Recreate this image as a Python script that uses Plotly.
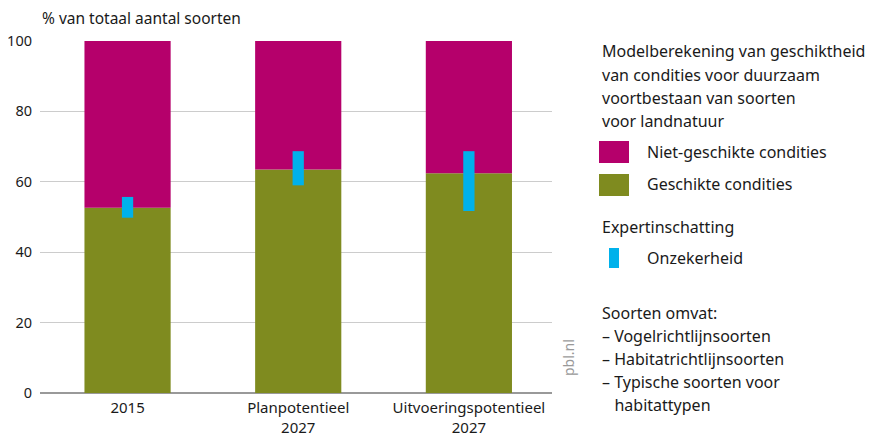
import plotly.graph_objects as go

categories = ["2015", "Planpotentieel<br>2027", "Uitvoeringspotentieel<br>2027"]
geschikt = [52.6, 63.5, 62.4]
niet_geschikt = [47.4, 36.5, 37.6]
onz_low = [49.8, 59.0, 51.7]
onz_high = [55.7, 68.7, 68.7]

MAGENTA = "#b5006b"
GREEN = "#7f8b1f"
BLUE = "#00b1eb"
FONT = "Noto Sans"

# page body has 8px margin: figure is placed at (8, 8)
OFF = 8
W, H = 876 - OFF, 440 - OFF
L, R, T, B = 40, 552, 41, 393  # plot area in page pixels
PW, PH = R - L, B - T

fig = go.Figure()
fig.add_trace(go.Bar(x=categories, y=geschikt, marker_color=GREEN, width=0.505,
                     marker_line_width=0, name="Geschikte condities"))
fig.add_trace(go.Bar(x=categories, y=niet_geschikt, base=geschikt, marker_color=MAGENTA,
                     width=0.505, marker_line_width=0, name="Niet-geschikte condities"))
fig.add_trace(go.Bar(x=categories, y=[h - l for h, l in zip(onz_high, onz_low)], base=onz_low,
                     marker_color=BLUE, width=0.066, marker_line_width=0, name="Onzekerheid"))

fig.update_layout(
    width=W, height=H,
    margin=dict(l=L - OFF, r=876 - R, t=T - OFF, b=440 - B, autoexpand=False),
    barmode="overlay",
    showlegend=False,
    plot_bgcolor="white", paper_bgcolor="white",
    font=dict(family=FONT, size=15, color="#1a1a1a"),
)
fig.update_yaxes(range=[0, 100], tickvals=[0, 20, 40, 60, 80, 100], showgrid=True,
                 gridcolor="#cccccc", gridwidth=1, zeroline=True, zerolinecolor="#999999",
                 zerolinewidth=2, ticks="", ticklabelstandoff=7, tickfont=dict(size=14.5),
                 automargin=False)
fig.update_xaxes(range=[-0.513, 2.487], showgrid=False, ticks="", tickfont=dict(size=15),
                 showline=False, automargin=False, ticklabelstandoff=4)

ann = []

def pa(x, y, text, size=16, **kw):
    d = dict(x=(x - L) / PW, y=(B - y) / PH, xref="paper", yref="paper", xanchor="left",
             yanchor="middle", text=text, showarrow=False, align="left",
             font=dict(size=size))
    d.update(kw)
    ann.append(d)

pa(40, 18, "% van totaal aantal soorten", size=15.5)
for i, line in enumerate(["Modelberekening van geschiktheid", "van condities voor duurzaam",
                          "voortbestaan van soorten", "voor landnatuur"]):
    pa(600, 51 + 23.5 * i, line)
pa(645, 152, "Niet-geschikte condities")
pa(645, 184, "Geschikte condities")
pa(600, 227, "Expertinschatting")
pa(645, 258, "Onzekerheid")
for i, line in enumerate(["Soorten omvat:", "– Vogelrichtlijnsoorten", "– Habitatrichtlijnsoorten",
                          "– Typische soorten voor", "   habitattypen"]):
    pa(600, 313 + 23 * i, line)
pa(568, 358, "pbl.nl", size=14, textangle=-90, xanchor="center")
ann[-1]["font"]["color"] = "#999999"
fig.update_layout(annotations=ann)

def rect(x0, y0, x1, y1, c):
    return dict(type="rect", xref="paper", yref="paper", x0=(x0 - L) / PW, x1=(x1 - L) / PW,
                y0=(B - y1) / PH, y1=(B - y0) / PH, fillcolor=c, line_width=0)

fig.update_layout(shapes=[rect(599, 141, 629, 163, MAGENTA), rect(599, 174, 629, 196, GREEN),
                          rect(609, 248, 619, 268, BLUE)])

fig.write_html("out.html")
